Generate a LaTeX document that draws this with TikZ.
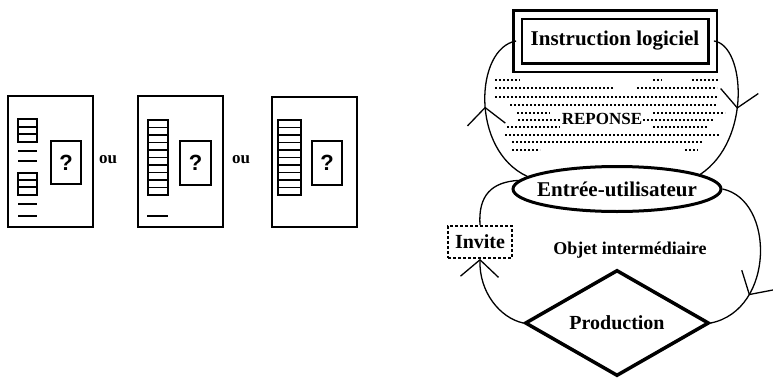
\documentclass[tikz,border=0pt]{standalone}
\usepackage{fontspec}
\setmainfont{Liberation Serif}
\newfontfamily\qfont{Liberation Sans}
\usetikzlibrary{arrows.meta,shapes.geometric,decorations.markings}
\newcommand\fsz[1]{\fontsize{#1}{#1}\selectfont}

\begin{document}
\begin{tikzpicture}[x=1pt, y=-1pt, every node/.style={font=\bfseries},
      panel/.style={draw, line width=2.2pt},
      field/.style={draw, line width=2pt},
      rowline/.style={line width=1.8pt},
      dots/.style={line width=1.3pt, dash pattern=on 2pt off 2pt},
      loop/.style={line width=1.3pt},
      barb/.style={postaction={decorate}, decoration={markings,
        mark=at position #1 with {\arrow{Straight Barb[length=17pt,width=38pt]}}}},
      barb/.default=0.5,
      qmark/.style={font=\qfont\bfseries\fsz{22}}]
    \useasboundingbox (0,0) rectangle (773,380);
    % three screen layouts
    \draw[panel] (8,96) rectangle (93,227);
    \draw[rowline] (18,119) rectangle (37,142) (18,127)--(37,127) (18,134)--(37,134);
    \draw[rowline] (18,151)--(37,151) (18,161)--(37,161);
    \draw[rowline] (18,173) rectangle (37,195) (18,180)--(37,180) (18,187)--(37,187);
    \draw[rowline] (18,204)--(37,204) (18,216)--(37,216);
    \draw[field] (51,141) rectangle (81,184);
    \node[qmark] (qa) at (66,163) {?};
    \node[font=\bfseries\fsz{17}] (oua) at (108,160) {ou};

    \draw[panel] (138,96) rectangle (223,227);
    \draw[rowline] (148,120) rectangle (168,195);
    \foreach \y in {127.5,135,...,190} \draw[rowline] (148,\y)--(168,\y);
    \draw[rowline] (147,216)--(168,216);
    \draw[field] (180,141) rectangle (211,185);
    \node[qmark] (qb) at (195.5,163) {?};
    \node[font=\bfseries\fsz{17}] (oub) at (241,160) {ou};

    \draw[panel] (272,97) rectangle (357,227);
    \draw[rowline] (278,120) rectangle (301,195);
    \foreach \y in {127.5,135,...,190} \draw[rowline] (278,\y)--(301,\y);
    \draw[field] (312,141) rectangle (342,185);
    \node[qmark] (qc) at (327,163) {?};

    % dialogue cycle
    \node[draw, double, line width=2.8pt, double distance=6pt, minimum width=195pt, minimum height=53pt,
      font=\bfseries\fsz{21}] (instr) at (615,41) {Instruction logiciel};
    \foreach \y/\a/\b in {80/495/520, 80/653/662, 80/692/718, 88/495/613, 88/637/717, 97/495/718,
        105/510/717, 113/517/550, 113/653/725, 120/518/562, 120/643/713, 127/507/560, 127/653/707,
        135/505/720, 142/512/703, 150/512/540, 150/685/698}
      \draw[dots] (\a,\y)--(\b,\y);
    \node[fill=white, inner sep=1pt, font=\bfseries\fsz{17}] (rep) at (602,119) {REPONSE};
    \node[ellipse, draw, line width=3pt, minimum width=208pt, minimum height=45pt, inner ysep=0pt,
      inner xsep=-30pt, font=\bfseries\fsz{21}] (entree) at (617,189) {Entrée-utilisateur};
    \node[draw, line width=1.8pt, dash pattern=on 3pt off 2pt, minimum width=64pt, minimum height=32pt,
      inner sep=0pt, font=\bfseries\fsz{20}] (invite) at (480,242) {Invite};
    \node[font=\bfseries\fsz{18}] (objet) at (630,250) {Objet intermédiaire};
    \node[diamond, draw, line width=3.5pt, aspect=1.7, minimum width=184pt, minimum height=106pt,
      font=\bfseries\fsz{20}] (prod) at (617,323) {Production};

    \draw[loop, barb=0.52] (entree.172) .. controls (470,150) and (475,48) .. (instr.west);
    \draw[loop, barb=0.5] (instr.east) .. controls (745,45) and (752,140) .. (entree.10);
    \draw[loop, barb=0.72] (entree.east) .. controls (775,200) and (775,310) .. (prod.east);
    \draw[loop, -{Straight Barb[length=17pt,width=38pt]}] (prod.west) .. controls (500,318) and (479,292) .. (invite.south);
    \draw[loop] (invite.north) .. controls (478,195) and (492,182) .. (entree.175);
  \end{tikzpicture}
\end{document}
